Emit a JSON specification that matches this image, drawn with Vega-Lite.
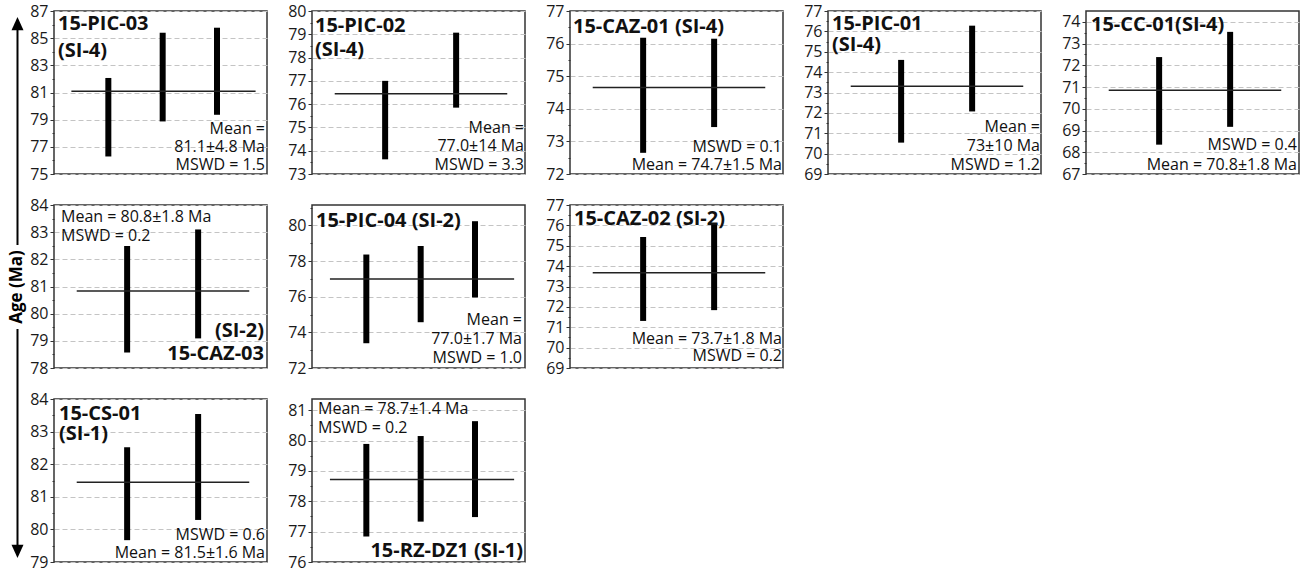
{
"$schema": "https://vega.github.io/schema/vega-lite/v6.json",
"background": "white",
"padding": {"left": 0, "top": 2, "right": 0, "bottom": 0},
"config": {
  "font": "Open Sans",
  "view": {"stroke": "#333", "strokeWidth": 1.5},
  "axis": {"labelFont": "Open Sans", "labelFontSize": 16, "labelColor": "#1a1a1a", "tickColor": "#333", "tickWidth": 1, "domain": false, "gridColor": "#c4c4c4", "gridDash": [5, 3], "labelPadding": 2, "labelOverlap": false, "labelBound": false},
  "text": {"font": "Open Sans", "color": "#111"}
},
"datasets": {
  "agelabel": [{"label": "Age (Ma)"}],
  "panels": [
    {"panel": "15-PIC-03", "title": "15-PIC-03\n(SI-4)", "stats": "Mean =\n81.1±4.8 Ma\nMSWD = 1.5", "mean": 81.1},
    {"panel": "15-PIC-02", "title": "15-PIC-02\n(SI-4)", "stats": "Mean =\n77.0±14 Ma\nMSWD = 3.3", "mean": 76.45},
    {"panel": "15-CAZ-01", "title": "15-CAZ-01 (SI-4)", "stats": "MSWD = 0.1\nMean = 74.7±1.5 Ma", "mean": 74.65},
    {"panel": "15-PIC-01", "title": "15-PIC-01\n(SI-4)", "stats": "Mean =\n73±10 Ma\nMSWD = 1.2", "mean": 73.31},
    {"panel": "15-CC-01", "title": "15-CC-01(SI-4)", "stats": "MSWD = 0.4\nMean = 70.8±1.8 Ma", "mean": 70.85},
    {"panel": "15-CAZ-03", "title": "(SI-2)\n15-CAZ-03", "stats": "Mean = 80.8±1.8 Ma\nMSWD = 0.2", "mean": 80.83},
    {"panel": "15-PIC-04", "title": "15-PIC-04 (SI-2)", "stats": "Mean =\n77.0±1.7 Ma\nMSWD = 1.0", "mean": 77.0},
    {"panel": "15-CAZ-02", "title": "15-CAZ-02 (SI-2)", "stats": "Mean = 73.7±1.8 Ma\nMSWD = 0.2", "mean": 73.67},
    {"panel": "15-CS-01", "title": "15-CS-01\n(SI-1)", "stats": "MSWD = 0.6\nMean = 81.5±1.6 Ma", "mean": 81.45},
    {"panel": "15-RZ-DZ1", "title": "15-RZ-DZ1 (SI-1)", "stats": "Mean = 78.7±1.4 Ma\nMSWD = 0.2", "mean": 78.72}
  ],
  "grains": [
    {"panel": "15-PIC-03", "grain": 1, "low": 76.29, "high": 82.07},
    {"panel": "15-PIC-03", "grain": 2, "low": 78.87, "high": 85.4},
    {"panel": "15-PIC-03", "grain": 3, "low": 79.36, "high": 85.77},
    {"panel": "15-PIC-02", "grain": 1, "low": 73.63, "high": 77.0},
    {"panel": "15-PIC-02", "grain": 2, "low": 75.85, "high": 79.07},
    {"panel": "15-CAZ-01", "grain": 1, "low": 72.65, "high": 76.18},
    {"panel": "15-CAZ-01", "grain": 2, "low": 73.44, "high": 76.15},
    {"panel": "15-PIC-01", "grain": 1, "low": 70.54, "high": 74.6},
    {"panel": "15-PIC-01", "grain": 2, "low": 72.07, "high": 76.28},
    {"panel": "15-CC-01", "grain": 1, "low": 68.35, "high": 72.38},
    {"panel": "15-CC-01", "grain": 2, "low": 69.17, "high": 73.54},
    {"panel": "15-CAZ-03", "grain": 1, "low": 78.57, "high": 82.49},
    {"panel": "15-CAZ-03", "grain": 2, "low": 79.09, "high": 83.1},
    {"panel": "15-PIC-04", "grain": 1, "low": 73.39, "high": 78.37},
    {"panel": "15-PIC-04", "grain": 2, "low": 74.57, "high": 78.85},
    {"panel": "15-PIC-04", "grain": 3, "low": 75.96, "high": 80.24},
    {"panel": "15-CAZ-02", "grain": 1, "low": 71.31, "high": 75.43},
    {"panel": "15-CAZ-02", "grain": 2, "low": 71.84, "high": 76.08},
    {"panel": "15-CS-01", "grain": 1, "low": 79.67, "high": 82.52},
    {"panel": "15-CS-01", "grain": 2, "low": 80.29, "high": 83.54},
    {"panel": "15-RZ-DZ1", "grain": 1, "low": 76.84, "high": 79.89},
    {"panel": "15-RZ-DZ1", "grain": 2, "low": 77.33, "high": 80.15},
    {"panel": "15-RZ-DZ1", "grain": 3, "low": 77.48, "high": 80.64}
  ]
},
"spacing": 2,
"hconcat": [
  {
    "width": 26, "height": 556, "view": {"stroke": null},
    "data": {"name": "agelabel"},
    "layer": [
      {"mark": {"type": "rule", "strokeWidth": 2, "color": "#000"},
       "encoding": {"x": {"datum": 0.673, "type": "quantitative", "scale": {"domain": [0, 1]}, "axis": null},
                    "y": {"datum": 0.9784, "type": "quantitative", "scale": {"domain": [0, 1]}, "axis": null}, "y2": {"datum": 0.5791}}},
      {"mark": {"type": "rule", "strokeWidth": 2, "color": "#000"},
       "encoding": {"x": {"datum": 0.673, "type": "quantitative", "axis": null},
                    "y": {"datum": 0.4281, "type": "quantitative", "axis": null}, "y2": {"datum": 0.027}}},
      {"mark": {"type": "point", "shape": "M0,-1.1L1,1.1L-1,1.1Z", "size": 144, "filled": true, "color": "#000", "opacity": 1, "strokeWidth": 0},
       "encoding": {"x": {"datum": 0.673, "type": "quantitative", "axis": null}, "y": {"datum": 0.9773, "type": "quantitative", "axis": null}}},
      {"mark": {"type": "point", "shape": "M0,1.1L1,-1.1L-1,-1.1Z", "size": 144, "filled": true, "color": "#000", "opacity": 1, "strokeWidth": 0},
       "encoding": {"x": {"datum": 0.673, "type": "quantitative", "axis": null}, "y": {"datum": 0.0281, "type": "quantitative", "axis": null}}},
      {"mark": {"type": "text", "angle": 270, "fontWeight": "bold", "fontSize": 17, "align": "center", "baseline": "middle", "color": "#000"},
       "encoding": {"x": {"datum": 0.673, "type": "quantitative", "axis": null}, "y": {"datum": 0.5036, "type": "quantitative", "axis": null}, "text": {"field": "label"}}}
    ]
  },
  {
    "columns": 5,
    "bounds": "flush",
    "spacing": {"row": 31, "column": 45},
    "concat": [
      {
        "width": 213, "height": 163, "resolve": {"axis": {"y": "independent"}},
        "layer": [
          {"data": {"name": "grains"}, "transform": [{"filter": "datum.panel === '15-PIC-03'"}],
           "mark": {"type": "rule", "strokeWidth": 6, "color": "#000"},
           "encoding": {
             "x": {"field": "grain", "type": "quantitative", "scale": {"domain": [0, 3.92], "nice": false, "zero": false}, "axis": null},
             "y": {"field": "high", "type": "quantitative", "scale": {"domain": [75, 87], "nice": false, "zero": false},
                   "axis": {"title": null, "orient": "left", "grid": true, "tickSize": 4, "values": [75,77,79,81,83,85,87]}},
             "y2": {"field": "low"}}},
          {"data": {"name": "panels"}, "transform": [{"filter": "datum.panel === '15-PIC-03'"}],
           "mark": {"type": "rule", "strokeWidth": 1.5, "color": "#222"},
           "encoding": {"x": {"datum": 0.32, "type": "quantitative", "axis": null}, "x2": {"datum": 3.71},
                        "y": {"field": "mean", "type": "quantitative", "axis": {"title": null, "orient": "left", "grid": false, "labels": false, "tickSize": 2, "values": [76,78,80,82,84,86]}}}},
          {"data": {"name": "panels"}, "transform": [{"filter": "datum.panel === '15-PIC-03'"}],
           "mark": {"type": "text", "align": "left", "baseline": "top", "dx": 4, "dy": 3, "fontWeight": "bold", "fontSize": 20, "lineBreak": "\n", "lineHeight": 27},
           "encoding": {"x": {"datum": 0, "type": "quantitative", "axis": null}, "y": {"datum": 87, "type": "quantitative", "axis": null}, "text": {"field": "title"}}},
          {"data": {"name": "panels"}, "transform": [{"filter": "datum.panel === '15-PIC-03'"}],
           "mark": {"type": "text", "align": "right", "baseline": "bottom", "dx": -2, "dy": -37, "fontSize": 16, "lineBreak": "\n", "lineHeight": 18},
           "encoding": {"x": {"datum": 3.92, "type": "quantitative", "axis": null}, "y": {"datum": 75, "type": "quantitative", "axis": null}, "text": {"field": "stats"}}}
        ]
      },
      {
        "width": 213, "height": 163, "resolve": {"axis": {"y": "independent"}},
        "layer": [
          {"data": {"name": "grains"}, "transform": [{"filter": "datum.panel === '15-PIC-02'"}],
           "mark": {"type": "rule", "strokeWidth": 6, "color": "#000"},
           "encoding": {
             "x": {"field": "grain", "type": "quantitative", "scale": {"domain": [-0.03, 2.97], "nice": false, "zero": false}, "axis": null},
             "y": {"field": "high", "type": "quantitative", "scale": {"domain": [73, 80], "nice": false, "zero": false},
                   "axis": {"title": null, "orient": "left", "grid": true, "tickSize": 4, "values": [73,74,75,76,77,78,79,80]}},
             "y2": {"field": "low"}}},
          {"data": {"name": "panels"}, "transform": [{"filter": "datum.panel === '15-PIC-02'"}],
           "mark": {"type": "rule", "strokeWidth": 1.5, "color": "#222"},
           "encoding": {"x": {"datum": 0.29, "type": "quantitative", "axis": null}, "x2": {"datum": 2.72},
                        "y": {"field": "mean", "type": "quantitative", "axis": {"title": null, "orient": "left", "grid": false, "labels": false, "tickSize": 2, "values": [73.5,74.5,75.5,76.5,77.5,78.5,79.5]}}}},
          {"data": {"name": "panels"}, "transform": [{"filter": "datum.panel === '15-PIC-02'"}],
           "mark": {"type": "text", "align": "left", "baseline": "top", "dx": 3, "dy": 5, "fontWeight": "bold", "fontSize": 20, "lineBreak": "\n", "lineHeight": 23.5},
           "encoding": {"x": {"datum": -0.03, "type": "quantitative", "axis": null}, "y": {"datum": 80, "type": "quantitative", "axis": null}, "text": {"field": "title"}}},
          {"data": {"name": "panels"}, "transform": [{"filter": "datum.panel === '15-PIC-02'"}],
           "mark": {"type": "text", "align": "right", "baseline": "bottom", "dx": -1, "dy": -38, "fontSize": 16, "lineBreak": "\n", "lineHeight": 18.3},
           "encoding": {"x": {"datum": 2.97, "type": "quantitative", "axis": null}, "y": {"datum": 73, "type": "quantitative", "axis": null}, "text": {"field": "stats"}}}
        ]
      },
      {
        "width": 213, "height": 163, "resolve": {"axis": {"y": "independent"}},
        "layer": [
          {"data": {"name": "grains"}, "transform": [{"filter": "datum.panel === '15-CAZ-01'"}],
           "mark": {"type": "rule", "strokeWidth": 6, "color": "#000"},
           "encoding": {
             "x": {"field": "grain", "type": "quantitative", "scale": {"domain": [-0.03, 2.97], "nice": false, "zero": false}, "axis": null},
             "y": {"field": "high", "type": "quantitative", "scale": {"domain": [72, 77], "nice": false, "zero": false},
                   "axis": {"title": null, "orient": "left", "grid": true, "tickSize": 4, "values": [72,73,74,75,76,77]}},
             "y2": {"field": "low"}}},
          {"data": {"name": "panels"}, "transform": [{"filter": "datum.panel === '15-CAZ-01'"}],
           "mark": {"type": "rule", "strokeWidth": 1.5, "color": "#222"},
           "encoding": {"x": {"datum": 0.29, "type": "quantitative", "axis": null}, "x2": {"datum": 2.72},
                        "y": {"field": "mean", "type": "quantitative", "axis": {"title": null, "orient": "left", "grid": false, "labels": false, "tickSize": 2, "values": [72.5,73.5,74.5,75.5,76.5]}}}},
          {"data": {"name": "panels"}, "transform": [{"filter": "datum.panel === '15-CAZ-01'"}],
           "mark": {"type": "text", "align": "left", "baseline": "top", "dx": 3, "dy": 6, "fontWeight": "bold", "fontSize": 20, "lineBreak": "\n", "lineHeight": 23},
           "encoding": {"x": {"datum": -0.03, "type": "quantitative", "axis": null}, "y": {"datum": 77, "type": "quantitative", "axis": null}, "text": {"field": "title"}}},
          {"data": {"name": "panels"}, "transform": [{"filter": "datum.panel === '15-CAZ-01'"}],
           "mark": {"type": "text", "align": "right", "baseline": "bottom", "dx": -1, "dy": -19, "fontSize": 16, "lineBreak": "\n", "lineHeight": 18.3},
           "encoding": {"x": {"datum": 2.97, "type": "quantitative", "axis": null}, "y": {"datum": 72, "type": "quantitative", "axis": null}, "text": {"field": "stats"}}}
        ]
      },
      {
        "width": 213, "height": 163, "resolve": {"axis": {"y": "independent"}},
        "layer": [
          {"data": {"name": "grains"}, "transform": [{"filter": "datum.panel === '15-PIC-01'"}],
           "mark": {"type": "rule", "strokeWidth": 6, "color": "#000"},
           "encoding": {
             "x": {"field": "grain", "type": "quantitative", "scale": {"domain": [-0.03, 2.97], "nice": false, "zero": false}, "axis": null},
             "y": {"field": "high", "type": "quantitative", "scale": {"domain": [69, 77], "nice": false, "zero": false},
                   "axis": {"title": null, "orient": "left", "grid": true, "tickSize": 4, "values": [69,70,71,72,73,74,75,76,77]}},
             "y2": {"field": "low"}}},
          {"data": {"name": "panels"}, "transform": [{"filter": "datum.panel === '15-PIC-01'"}],
           "mark": {"type": "rule", "strokeWidth": 1.5, "color": "#222"},
           "encoding": {"x": {"datum": 0.29, "type": "quantitative", "axis": null}, "x2": {"datum": 2.72},
                        "y": {"field": "mean", "type": "quantitative", "axis": {"title": null, "orient": "left", "grid": false, "labels": false, "tickSize": 2, "values": [69.5,70.5,71.5,72.5,73.5,74.5,75.5,76.5]}}}},
          {"data": {"name": "panels"}, "transform": [{"filter": "datum.panel === '15-PIC-01'"}],
           "mark": {"type": "text", "align": "left", "baseline": "top", "dx": 4, "dy": 3, "fontWeight": "bold", "fontSize": 20, "lineBreak": "\n", "lineHeight": 20.5},
           "encoding": {"x": {"datum": -0.03, "type": "quantitative", "axis": null}, "y": {"datum": 77, "type": "quantitative", "axis": null}, "text": {"field": "title"}}},
          {"data": {"name": "panels"}, "transform": [{"filter": "datum.panel === '15-PIC-01'"}],
           "mark": {"type": "text", "align": "right", "baseline": "bottom", "dx": -1, "dy": -39, "fontSize": 16, "lineBreak": "\n", "lineHeight": 19},
           "encoding": {"x": {"datum": 2.97, "type": "quantitative", "axis": null}, "y": {"datum": 69, "type": "quantitative", "axis": null}, "text": {"field": "stats"}}}
        ]
      },
      {
        "width": 213, "height": 163, "resolve": {"axis": {"y": "independent"}},
        "layer": [
          {"data": {"name": "grains"}, "transform": [{"filter": "datum.panel === '15-CC-01'"}],
           "mark": {"type": "rule", "strokeWidth": 6, "color": "#000"},
           "encoding": {
             "x": {"field": "grain", "type": "quantitative", "scale": {"domain": [-0.03, 2.97], "nice": false, "zero": false}, "axis": null},
             "y": {"field": "high", "type": "quantitative", "scale": {"domain": [67, 74.5], "nice": false, "zero": false},
                   "axis": {"title": null, "orient": "left", "grid": true, "tickSize": 4, "values": [67,68,69,70,71,72,73,74]}},
             "y2": {"field": "low"}}},
          {"data": {"name": "panels"}, "transform": [{"filter": "datum.panel === '15-CC-01'"}],
           "mark": {"type": "rule", "strokeWidth": 1.5, "color": "#222"},
           "encoding": {"x": {"datum": 0.29, "type": "quantitative", "axis": null}, "x2": {"datum": 2.72},
                        "y": {"field": "mean", "type": "quantitative", "axis": {"title": null, "orient": "left", "grid": false, "labels": false, "tickSize": 2, "values": [67.5,68.5,69.5,70.5,71.5,72.5,73.5]}}}},
          {"data": {"name": "panels"}, "transform": [{"filter": "datum.panel === '15-CC-01'"}],
           "mark": {"type": "text", "align": "left", "baseline": "top", "dx": 5, "dy": 4, "fontWeight": "bold", "fontSize": 20, "lineBreak": "\n", "lineHeight": 23},
           "encoding": {"x": {"datum": -0.03, "type": "quantitative", "axis": null}, "y": {"datum": 74.5, "type": "quantitative", "axis": null}, "text": {"field": "title"}}},
          {"data": {"name": "panels"}, "transform": [{"filter": "datum.panel === '15-CC-01'"}],
           "mark": {"type": "text", "align": "right", "baseline": "bottom", "dx": -2, "dy": -21, "fontSize": 16, "lineBreak": "\n", "lineHeight": 20},
           "encoding": {"x": {"datum": 2.97, "type": "quantitative", "axis": null}, "y": {"datum": 67, "type": "quantitative", "axis": null}, "text": {"field": "stats"}}}
        ]
      },
      {
        "width": 213, "height": 163, "resolve": {"axis": {"y": "independent"}},
        "layer": [
          {"data": {"name": "grains"}, "transform": [{"filter": "datum.panel === '15-CAZ-03'"}],
           "mark": {"type": "rule", "strokeWidth": 6, "color": "#000"},
           "encoding": {
             "x": {"field": "grain", "type": "quantitative", "scale": {"domain": [-0.03, 2.97], "nice": false, "zero": false}, "axis": null},
             "y": {"field": "high", "type": "quantitative", "scale": {"domain": [78, 84], "nice": false, "zero": false},
                   "axis": {"title": null, "orient": "left", "grid": true, "tickSize": 4, "values": [78,79,80,81,82,83,84]}},
             "y2": {"field": "low"}}},
          {"data": {"name": "panels"}, "transform": [{"filter": "datum.panel === '15-CAZ-03'"}],
           "mark": {"type": "rule", "strokeWidth": 1.5, "color": "#222"},
           "encoding": {"x": {"datum": 0.29, "type": "quantitative", "axis": null}, "x2": {"datum": 2.72},
                        "y": {"field": "mean", "type": "quantitative", "axis": {"title": null, "orient": "left", "grid": false, "labels": false, "tickSize": 2, "values": [78.5,79.5,80.5,81.5,82.5,83.5]}}}},
          {"data": {"name": "panels"}, "transform": [{"filter": "datum.panel === '15-CAZ-03'"}],
           "mark": {"type": "text", "align": "right", "baseline": "bottom", "dx": -3, "dy": -27, "fontWeight": "bold", "fontSize": 20, "lineBreak": "\n", "lineHeight": 23},
           "encoding": {"x": {"datum": 2.97, "type": "quantitative", "axis": null}, "y": {"datum": 78, "type": "quantitative", "axis": null}, "text": {"field": "title"}}},
          {"data": {"name": "panels"}, "transform": [{"filter": "datum.panel === '15-CAZ-03'"}],
           "mark": {"type": "text", "align": "left", "baseline": "top", "dx": 7, "dy": 4, "fontSize": 16, "lineBreak": "\n", "lineHeight": 19},
           "encoding": {"x": {"datum": -0.03, "type": "quantitative", "axis": null}, "y": {"datum": 84, "type": "quantitative", "axis": null}, "text": {"field": "stats"}}}
        ]
      },
      {
        "width": 213, "height": 163, "resolve": {"axis": {"y": "independent"}},
        "layer": [
          {"data": {"name": "grains"}, "transform": [{"filter": "datum.panel === '15-PIC-04'"}],
           "mark": {"type": "rule", "strokeWidth": 6, "color": "#000"},
           "encoding": {
             "x": {"field": "grain", "type": "quantitative", "scale": {"domain": [0, 3.92], "nice": false, "zero": false}, "axis": null},
             "y": {"field": "high", "type": "quantitative", "scale": {"domain": [72, 81.15], "nice": false, "zero": false},
                   "axis": {"title": null, "orient": "left", "grid": true, "tickSize": 4, "values": [72,74,76,78,80]}},
             "y2": {"field": "low"}}},
          {"data": {"name": "panels"}, "transform": [{"filter": "datum.panel === '15-PIC-04'"}],
           "mark": {"type": "rule", "strokeWidth": 1.5, "color": "#222"},
           "encoding": {"x": {"datum": 0.33, "type": "quantitative", "axis": null}, "x2": {"datum": 3.72},
                        "y": {"field": "mean", "type": "quantitative", "axis": {"title": null, "orient": "left", "grid": false, "labels": false, "tickSize": 2, "values": [73,75,77,79,81]}}}},
          {"data": {"name": "panels"}, "transform": [{"filter": "datum.panel === '15-PIC-04'"}],
           "mark": {"type": "text", "align": "left", "baseline": "top", "dx": 4, "dy": 6, "fontWeight": "bold", "fontSize": 20, "lineBreak": "\n", "lineHeight": 23},
           "encoding": {"x": {"datum": 0, "type": "quantitative", "axis": null}, "y": {"datum": 81.15, "type": "quantitative", "axis": null}, "text": {"field": "title"}}},
          {"data": {"name": "panels"}, "transform": [{"filter": "datum.panel === '15-PIC-04'"}],
           "mark": {"type": "text", "align": "right", "baseline": "bottom", "dx": -3, "dy": -40, "fontSize": 16, "lineBreak": "\n", "lineHeight": 19},
           "encoding": {"x": {"datum": 3.92, "type": "quantitative", "axis": null}, "y": {"datum": 72, "type": "quantitative", "axis": null}, "text": {"field": "stats"}}}
        ]
      },
      {
        "width": 213, "height": 163, "resolve": {"axis": {"y": "independent"}},
        "layer": [
          {"data": {"name": "grains"}, "transform": [{"filter": "datum.panel === '15-CAZ-02'"}],
           "mark": {"type": "rule", "strokeWidth": 6, "color": "#000"},
           "encoding": {
             "x": {"field": "grain", "type": "quantitative", "scale": {"domain": [-0.03, 2.97], "nice": false, "zero": false}, "axis": null},
             "y": {"field": "high", "type": "quantitative", "scale": {"domain": [69, 77], "nice": false, "zero": false},
                   "axis": {"title": null, "orient": "left", "grid": true, "tickSize": 4, "values": [69,70,71,72,73,74,75,76,77]}},
             "y2": {"field": "low"}}},
          {"data": {"name": "panels"}, "transform": [{"filter": "datum.panel === '15-CAZ-02'"}],
           "mark": {"type": "rule", "strokeWidth": 1.5, "color": "#222"},
           "encoding": {"x": {"datum": 0.29, "type": "quantitative", "axis": null}, "x2": {"datum": 2.72},
                        "y": {"field": "mean", "type": "quantitative", "axis": {"title": null, "orient": "left", "grid": false, "labels": false, "tickSize": 2, "values": [69.5,70.5,71.5,72.5,73.5,74.5,75.5,76.5]}}}},
          {"data": {"name": "panels"}, "transform": [{"filter": "datum.panel === '15-CAZ-02'"}],
           "mark": {"type": "text", "align": "left", "baseline": "top", "dx": 4, "dy": 4, "fontWeight": "bold", "fontSize": 20, "lineBreak": "\n", "lineHeight": 23},
           "encoding": {"x": {"datum": -0.03, "type": "quantitative", "axis": null}, "y": {"datum": 77, "type": "quantitative", "axis": null}, "text": {"field": "title"}}},
          {"data": {"name": "panels"}, "transform": [{"filter": "datum.panel === '15-CAZ-02'"}],
           "mark": {"type": "text", "align": "right", "baseline": "bottom", "dx": -1, "dy": -21, "fontSize": 16, "lineBreak": "\n", "lineHeight": 16.5},
           "encoding": {"x": {"datum": 2.97, "type": "quantitative", "axis": null}, "y": {"datum": 69, "type": "quantitative", "axis": null}, "text": {"field": "stats"}}}
        ]
      },
      {"width": 213, "height": 163, "view": {"stroke": null}, "data": {"values": []}, "mark": "text"},
      {"width": 213, "height": 163, "view": {"stroke": null}, "data": {"values": []}, "mark": "text"},
      {
        "width": 213, "height": 163, "resolve": {"axis": {"y": "independent"}},
        "layer": [
          {"data": {"name": "grains"}, "transform": [{"filter": "datum.panel === '15-CS-01'"}],
           "mark": {"type": "rule", "strokeWidth": 6, "color": "#000"},
           "encoding": {
             "x": {"field": "grain", "type": "quantitative", "scale": {"domain": [-0.03, 2.97], "nice": false, "zero": false}, "axis": null},
             "y": {"field": "high", "type": "quantitative", "scale": {"domain": [79, 84], "nice": false, "zero": false},
                   "axis": {"title": null, "orient": "left", "grid": true, "tickSize": 4, "values": [79,80,81,82,83,84]}},
             "y2": {"field": "low"}}},
          {"data": {"name": "panels"}, "transform": [{"filter": "datum.panel === '15-CS-01'"}],
           "mark": {"type": "rule", "strokeWidth": 1.5, "color": "#222"},
           "encoding": {"x": {"datum": 0.29, "type": "quantitative", "axis": null}, "x2": {"datum": 2.72},
                        "y": {"field": "mean", "type": "quantitative", "axis": {"title": null, "orient": "left", "grid": false, "labels": false, "tickSize": 2, "values": [79.5,80.5,81.5,82.5,83.5]}}}},
          {"data": {"name": "panels"}, "transform": [{"filter": "datum.panel === '15-CS-01'"}],
           "mark": {"type": "text", "align": "left", "baseline": "top", "dx": 5, "dy": 5, "fontWeight": "bold", "fontSize": 20, "lineBreak": "\n", "lineHeight": 19.5},
           "encoding": {"x": {"datum": -0.03, "type": "quantitative", "axis": null}, "y": {"datum": 84, "type": "quantitative", "axis": null}, "text": {"field": "title"}}},
          {"data": {"name": "panels"}, "transform": [{"filter": "datum.panel === '15-CS-01'"}],
           "mark": {"type": "text", "align": "right", "baseline": "bottom", "dx": -2, "dy": -19, "fontSize": 16, "lineBreak": "\n", "lineHeight": 18},
           "encoding": {"x": {"datum": 2.97, "type": "quantitative", "axis": null}, "y": {"datum": 79, "type": "quantitative", "axis": null}, "text": {"field": "stats"}}}
        ]
      },
      {
        "width": 213, "height": 163, "resolve": {"axis": {"y": "independent"}},
        "layer": [
          {"data": {"name": "grains"}, "transform": [{"filter": "datum.panel === '15-RZ-DZ1'"}],
           "mark": {"type": "rule", "strokeWidth": 6, "color": "#000"},
           "encoding": {
             "x": {"field": "grain", "type": "quantitative", "scale": {"domain": [0, 3.92], "nice": false, "zero": false}, "axis": null},
             "y": {"field": "high", "type": "quantitative", "scale": {"domain": [76, 81.37], "nice": false, "zero": false},
                   "axis": {"title": null, "orient": "left", "grid": true, "tickSize": 4, "values": [76,77,78,79,80,81]}},
             "y2": {"field": "low"}}},
          {"data": {"name": "panels"}, "transform": [{"filter": "datum.panel === '15-RZ-DZ1'"}],
           "mark": {"type": "rule", "strokeWidth": 1.5, "color": "#222"},
           "encoding": {"x": {"datum": 0.33, "type": "quantitative", "axis": null}, "x2": {"datum": 3.72},
                        "y": {"field": "mean", "type": "quantitative", "axis": {"title": null, "orient": "left", "grid": false, "labels": false, "tickSize": 2, "values": [76.5,77.5,78.5,79.5,80.5]}}}},
          {"data": {"name": "panels"}, "transform": [{"filter": "datum.panel === '15-RZ-DZ1'"}],
           "mark": {"type": "text", "align": "right", "baseline": "bottom", "dx": -2, "dy": -1, "fontWeight": "bold", "fontSize": 20, "lineBreak": "\n", "lineHeight": 23},
           "encoding": {"x": {"datum": 3.92, "type": "quantitative", "axis": null}, "y": {"datum": 76, "type": "quantitative", "axis": null}, "text": {"field": "title"}}},
          {"data": {"name": "panels"}, "transform": [{"filter": "datum.panel === '15-RZ-DZ1'"}],
           "mark": {"type": "text", "align": "left", "baseline": "top", "dx": 6, "dy": 2, "fontSize": 16, "lineBreak": "\n", "lineHeight": 19},
           "encoding": {"x": {"datum": 0, "type": "quantitative", "axis": null}, "y": {"datum": 81.37, "type": "quantitative", "axis": null}, "text": {"field": "stats"}}}
        ]
      }
    ]
  }
]
}
